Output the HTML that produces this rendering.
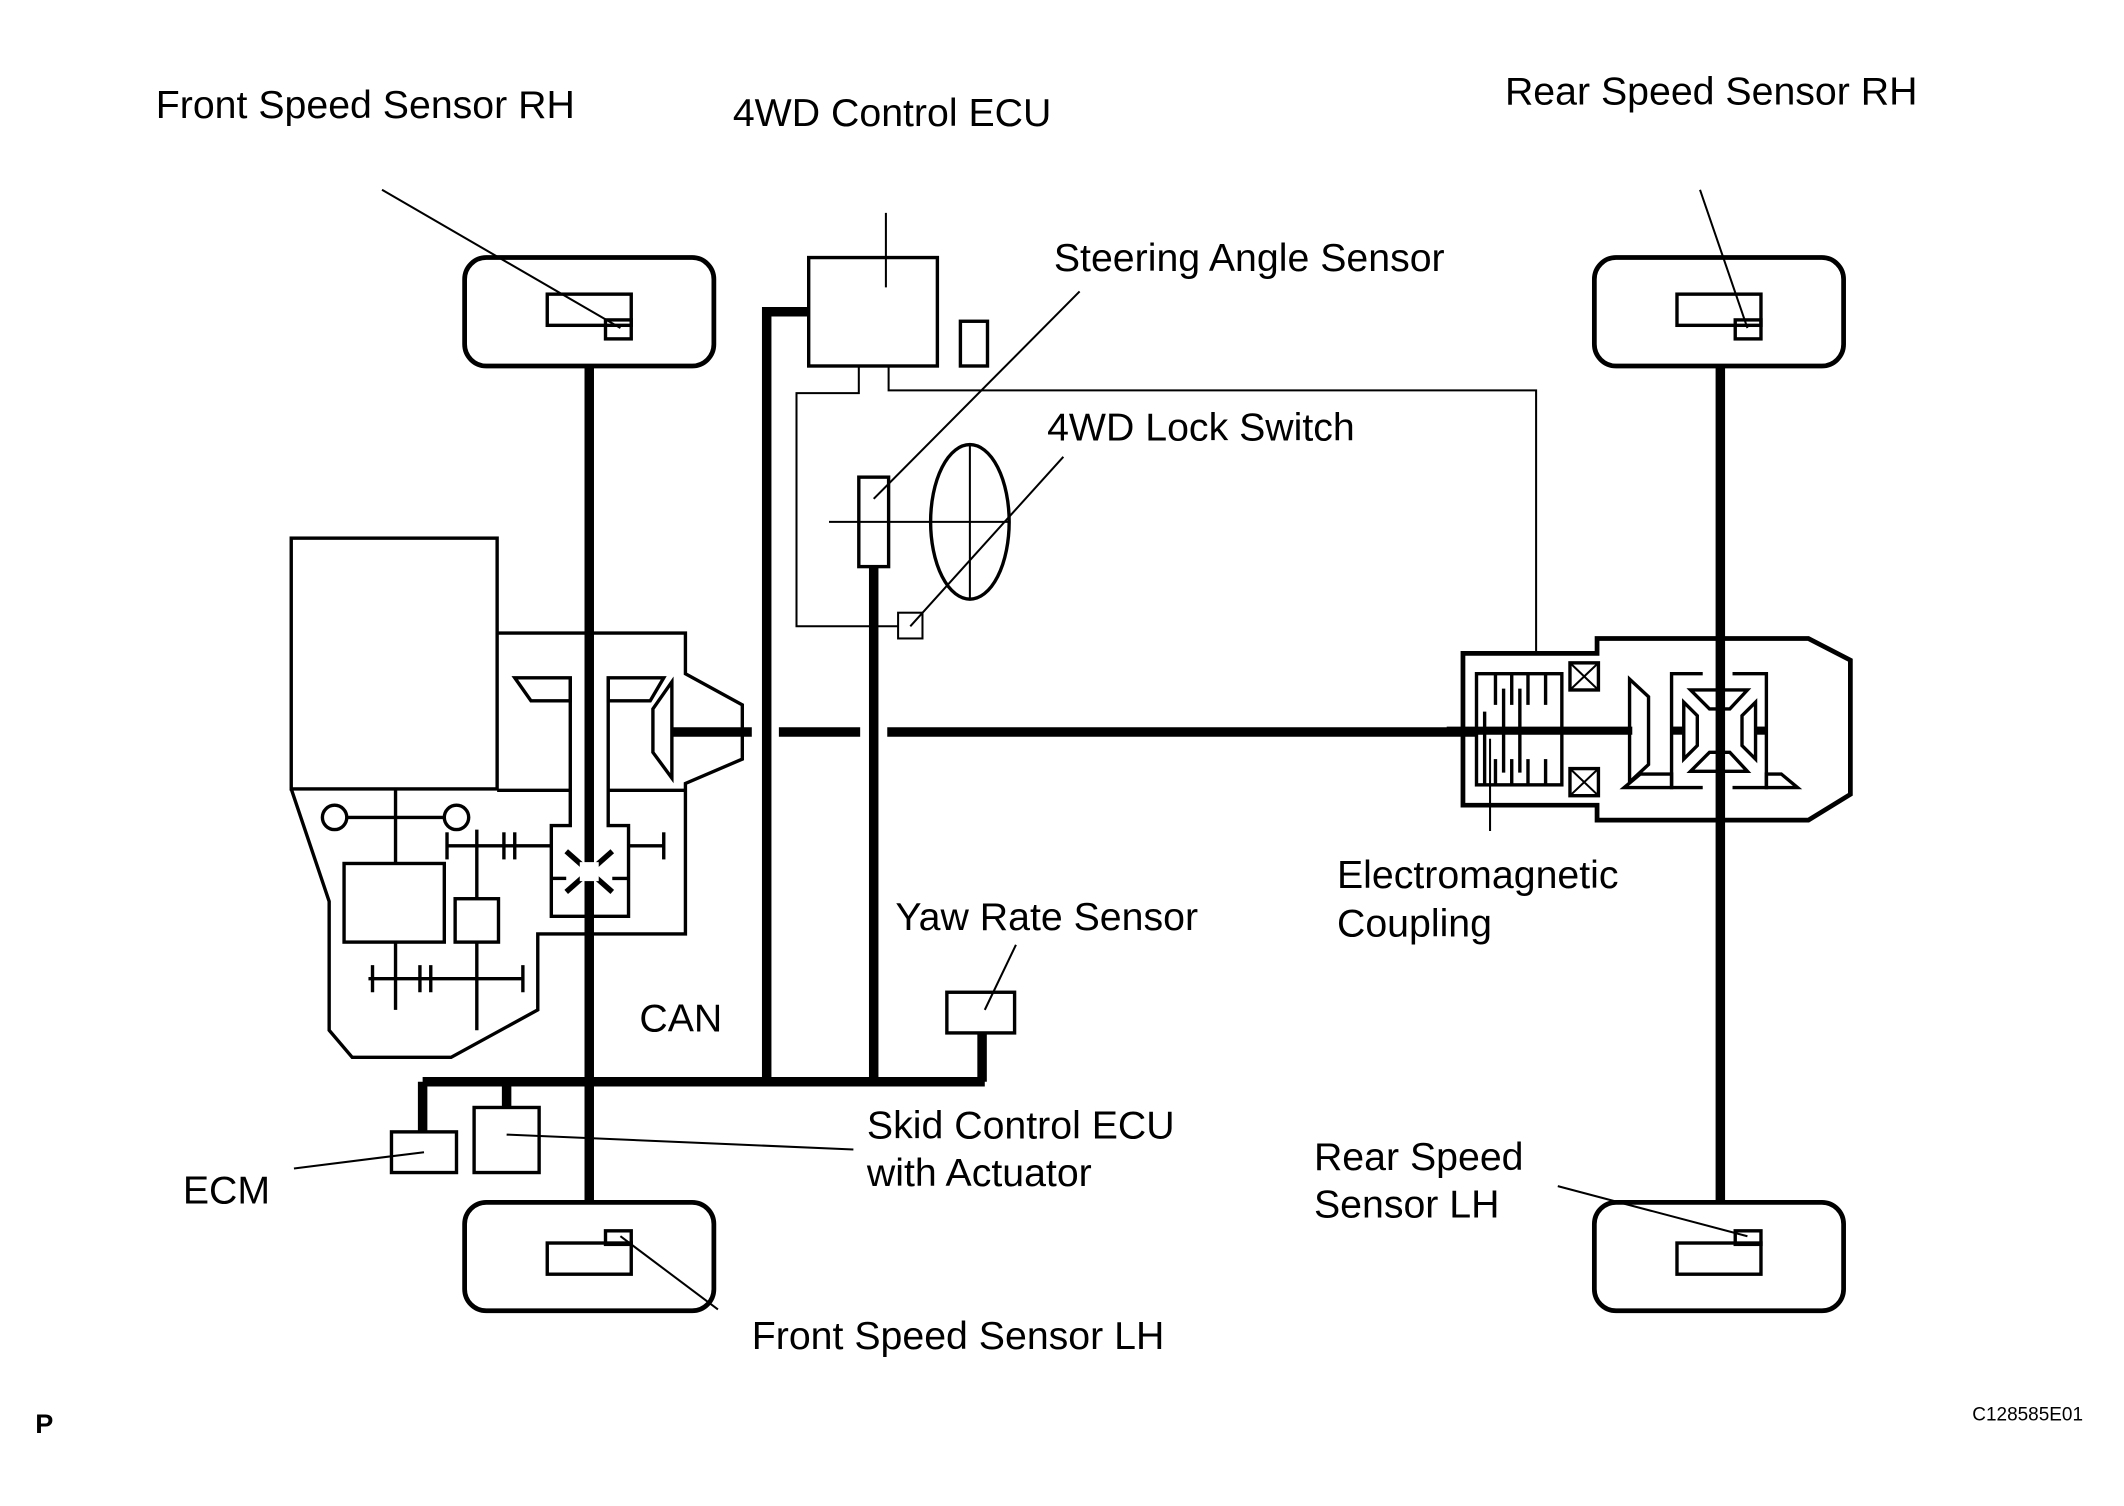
<!DOCTYPE html>
<html><head><meta charset="utf-8"><style>
html,body{margin:0;padding:0;background:#fff;}
svg{display:block;}
text{font-family:"Liberation Sans",sans-serif;fill:#000;}
</style></head><body>
<svg width="2124" height="1506" viewBox="0 0 1568 1111" preserveAspectRatio="none" xmlns="http://www.w3.org/2000/svg">
<rect width="1568" height="1111" fill="#fff"/>
<g fill="none" stroke="#000" stroke-width="2.5">
<rect x="343" y="190" width="184" height="80" rx="16" stroke-width="3.5"/>
<rect x="343" y="887" width="184" height="80" rx="16" stroke-width="3.5"/>
<rect x="1177" y="190" width="184" height="80" rx="16" stroke-width="3.5"/>
<rect x="1177" y="887" width="184" height="80" rx="16" stroke-width="3.5"/>
<rect x="404" y="217" width="62" height="23"/><rect x="447" y="236" width="19" height="14"/>
<rect x="404" y="917" width="62" height="23"/><rect x="447" y="908" width="19" height="10"/>
<rect x="1238" y="217" width="62" height="23"/><rect x="1281" y="236" width="19" height="14"/>
<rect x="1238" y="917" width="62" height="23"/><rect x="1281" y="908" width="19" height="10"/>
<line x1="435" y1="270" x2="435" y2="887" stroke-width="7"/>
<line x1="1270" y1="270" x2="1270" y2="887" stroke-width="7"/>
<rect x="597" y="190" width="95" height="80"/>
<line x1="654" y1="157" x2="654" y2="212" stroke-width="1.5"/>
<rect x="709" y="237" width="20" height="33"/>
<polyline points="597,230 566,230 566,800" stroke-width="7"/>
<line x1="645" y1="418" x2="645" y2="800" stroke-width="7"/>
<rect x="634" y="352" width="22" height="66"/>
<ellipse cx="716" cy="385" rx="29" ry="57"/>
<line x1="612" y1="385" x2="745" y2="385" stroke-width="1.5"/>
<line x1="716" y1="328" x2="716" y2="442" stroke-width="1.5"/>
<polyline points="634,270 634,290 588,290 588,462 663,462" stroke-width="1.5"/>
<polyline points="656,270 656,288 1134,288 1134,482" stroke-width="1.5"/>
<rect x="663" y="452" width="18" height="19" stroke-width="1.5"/>
<g stroke-width="1.5">
<line x1="282" y1="140" x2="458" y2="242"/>
<line x1="797" y1="215" x2="645" y2="368"/>
<line x1="785" y1="337" x2="672" y2="462"/>
<line x1="1255" y1="140" x2="1290" y2="242"/>
<line x1="750" y1="697" x2="727" y2="745"/>
<line x1="217" y1="862" x2="313" y2="850"/>
<line x1="630" y1="848" x2="374" y2="837"/>
<line x1="530" y1="966" x2="458" y2="912"/>
<line x1="1150" y1="875" x2="1290" y2="912"/>
<line x1="1100" y1="613" x2="1100" y2="545"/>
</g>
<line x1="312" y1="798" x2="727" y2="798" stroke-width="7"/>
<line x1="312" y1="798" x2="312" y2="835" stroke-width="7"/>
<line x1="374" y1="798" x2="374" y2="817" stroke-width="7"/>
<rect x="289" y="835" width="48" height="30"/>
<rect x="350" y="817" width="48" height="48"/>
<rect x="699" y="732" width="50" height="30"/>
<line x1="725" y1="762" x2="725" y2="798" stroke-width="7"/>
<line x1="497" y1="540" x2="555" y2="540" stroke-width="7"/>
<line x1="575" y1="540" x2="635" y2="540" stroke-width="7"/>
<line x1="655" y1="540" x2="1090" y2="540" stroke-width="7"/>
<!-- engine/transaxle -->
<rect x="215" y="397" width="152" height="185"/>
<polyline points="367,467 506,467 506,497 548,520 548,560 506,578 506,689 397,689 397,745 333,780 260,780 243,760 243,665 215,582"/>
<polygon points="380,500 421,500 421,517 392,517"/>
<polyline points="421,500 421,609 407,609 407,676 464,676 464,609 449,609 449,500"/>
<polygon points="449,500 490,500 480,517 449,517"/>
<line x1="367" y1="583" x2="421" y2="583"/><line x1="449" y1="583" x2="506" y2="583"/>
<polygon points="496,503 482,523 482,555 496,574"/>
<line x1="496" y1="540" x2="497" y2="540" stroke-width="7"/>
<circle cx="247" cy="603" r="9"/><circle cx="337" cy="603" r="9"/>
<line x1="256" y1="603" x2="328" y2="603"/>
<line x1="292" y1="582" x2="292" y2="637"/>
<rect x="254" y="637" width="74" height="58"/>
<rect x="336" y="663" width="32" height="32"/>
<line x1="330" y1="624" x2="407" y2="624"/><line x1="330" y1="614" x2="330" y2="634"/>
<line x1="352" y1="612" x2="352" y2="663"/>
<line x1="372" y1="614" x2="372" y2="634"/><line x1="380" y1="614" x2="380" y2="634"/>
<line x1="272" y1="722" x2="386" y2="722"/>
<line x1="292" y1="695" x2="292" y2="745"/><line x1="352" y1="695" x2="352" y2="760"/>
<line x1="275" y1="712" x2="275" y2="732"/><line x1="310" y1="712" x2="310" y2="732"/><line x1="318" y1="712" x2="318" y2="732"/><line x1="386" y1="712" x2="386" y2="732"/>
<line x1="464" y1="624" x2="490" y2="624"/><line x1="490" y1="614" x2="490" y2="634"/>
<line x1="418" y1="628" x2="452" y2="658" stroke-width="4"/><line x1="452" y1="628" x2="418" y2="658" stroke-width="4"/>
<line x1="407" y1="648" x2="418" y2="648"/><line x1="452" y1="648" x2="464" y2="648"/>
<rect x="428" y="636" width="14" height="14" fill="#fff" stroke="none"/>
<!-- rear diff -->
<polygon points="1179,471 1335,471 1366,487 1366,586 1335,605 1179,605 1179,594 1080,594 1080,482 1179,482" stroke-width="3.5"/>
<rect x="1090" y="497" width="63" height="82"/>
<g stroke-width="2.5">
<line x1="1104" y1="497" x2="1104" y2="520"/><line x1="1116" y1="497" x2="1116" y2="520"/><line x1="1128" y1="497" x2="1128" y2="520"/><line x1="1141" y1="497" x2="1141" y2="520"/>
<line x1="1104" y1="560" x2="1104" y2="579"/><line x1="1116" y1="560" x2="1116" y2="579"/><line x1="1128" y1="560" x2="1128" y2="579"/><line x1="1141" y1="560" x2="1141" y2="579"/>
<line x1="1110" y1="508" x2="1110" y2="570"/><line x1="1122" y1="508" x2="1122" y2="570"/>
<line x1="1096" y1="525" x2="1096" y2="579"/>
</g>
<rect x="1159" y="489" width="21" height="20"/><line x1="1159" y1="489" x2="1180" y2="509" stroke-width="1.5"/><line x1="1180" y1="489" x2="1159" y2="509" stroke-width="1.5"/>
<rect x="1159" y="567" width="21" height="20"/><line x1="1159" y1="567" x2="1180" y2="587" stroke-width="1.5"/><line x1="1180" y1="567" x2="1159" y2="587" stroke-width="1.5"/>
<line x1="1068" y1="539" x2="1205" y2="539" stroke-width="6"/>
<polygon points="1203,501 1217,514 1217,564 1203,577"/>
<polyline points="1257,497 1234,497 1234,581 1257,581"/>
<polyline points="1279,497 1304,497 1304,581 1279,581"/>
<line x1="1234" y1="539" x2="1242" y2="539" stroke-width="6"/><line x1="1297" y1="539" x2="1304" y2="539" stroke-width="6"/>
<polygon points="1248,509 1290,509 1277,523 1262,523"/>
<polygon points="1248,569 1290,569 1277,555 1262,555"/>
<polygon points="1243,518 1253,528 1253,550 1243,560"/>
<polygon points="1296,518 1286,528 1286,550 1296,560"/>
<polygon points="1199,581 1211,571 1234,571 1234,581"/>
<polygon points="1327,581 1315,571 1304,571 1304,581"/>
</g>
<g font-size="29">
<text x="115" y="87">Front Speed Sensor RH</text>
<text x="541" y="93">4WD Control ECU</text>
<text x="1111" y="77">Rear Speed Sensor RH</text>
<text x="778" y="200">Steering Angle Sensor</text>
<text x="773" y="325">4WD Lock Switch</text>
<text x="987" y="655">Electromagnetic</text>
<text x="987" y="691">Coupling</text>
<text x="661" y="686">Yaw Rate Sensor</text>
<text x="472" y="761">CAN</text>
<text x="640" y="840">Skid Control ECU</text>
<text x="640" y="875">with Actuator</text>
<text x="135" y="888">ECM</text>
<text x="970" y="863">Rear Speed</text>
<text x="970" y="898">Sensor LH</text>
<text x="555" y="995">Front Speed Sensor LH</text>
</g>
<text x="26" y="1057" font-size="20" font-weight="bold">P</text>
<text x="1456" y="1048" font-size="14">C128585E01</text>
</svg>
</body></html>
